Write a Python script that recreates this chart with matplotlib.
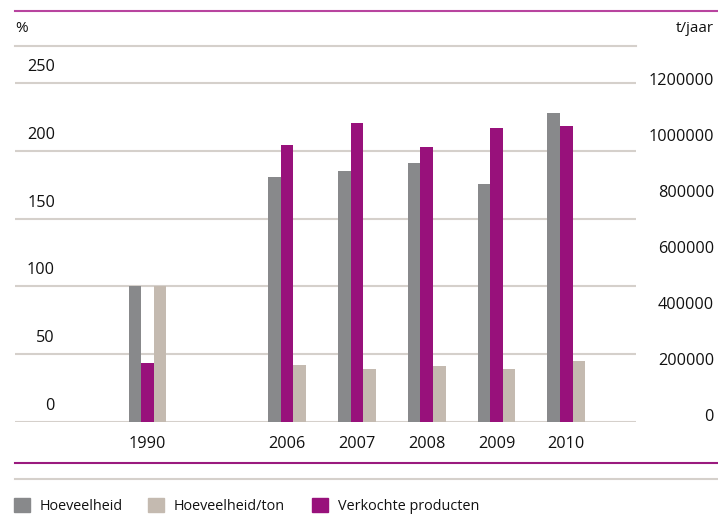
import numpy as np
import matplotlib
matplotlib.use("Agg")
import matplotlib.pyplot as plt
from matplotlib.lines import Line2D
from matplotlib.patches import Rectangle
import matplotlib.transforms as mtransforms

plt.rcParams['font.family'] = ['Open Sans', 'DejaVu Sans']

# Data
years = ['1990', '2006', '2007', '2008', '2009', '2010']
hoeveelheid = [100, 181, 185.4, 191.3, 175.8, 228.3]          # %
hoeveelheid_ton = [100, 41.9, 39.0, 41.2, 39.0, 44.9]        # %
verkochte = [208600, 988000, 1066700, 981000, 1048800, 1056000]  # t/jaar
left_ticks = [0, 50, 100, 150, 200, 250]
right_ticks = [0, 200000, 400000, 600000, 800000, 1000000, 1200000]

c_gray = '#88898b'
c_beige = '#c4bab0'
c_purple = '#98117b'
c_grid = '#d5d0cb'
c_text = '#111111'
num_fs = 11.7
leg_fs = 10.4

fig = plt.figure(figsize=(7.18, 5.14), dpi=100)
ax = fig.add_axes([15/718, 1 - 421.7/514, 621/718, (421.7 - 46)/514])
ax2 = ax.twinx()

pos = np.array([0, 2, 3, 4, 5, 6])  # gap between 1990 and 2006
w = 0.18
ax.bar(pos - w, hoeveelheid, width=w, color=c_gray, zorder=3)
ax.bar(pos + w, hoeveelheid_ton, width=w, color=c_beige, zorder=3)
ax2.bar(pos, verkochte, width=w, color=c_purple, zorder=3)

ax.set_xlim(-1.9, 7.0)
ax.set_ylim(0, 277.7)
ax2.set_ylim(0, 277.7 * 4830)

for a in (ax, ax2):
    for s in a.spines.values():
        s.set_visible(False)
    a.set_yticks([])
    a.tick_params(length=0)
ax.spines['top'].set_visible(True)
ax.spines['top'].set_color(c_grid)
ax.spines['top'].set_linewidth(1.5)

for v in left_ticks:
    ax.axhline(v, color=c_grid, lw=1.5, zorder=1)

ax.set_xticks(pos)
ax.set_xticklabels(years, fontsize=num_fs, color=c_text)
ax.tick_params(axis='x', pad=10.5)

# left labels sit above their gridline
off_l = mtransforms.ScaledTranslation(0, 16/100, fig.dpi_scale_trans)
for v in left_ticks:
    ax.text(40/621, v, str(v), transform=ax.get_yaxis_transform() + off_l,
            ha='right', va='center', fontsize=num_fs, color=c_text)

off_r = mtransforms.ScaledTranslation(0, 5/100, fig.dpi_scale_trans)
for v in right_ticks:
    ax2.text(699/621, v, str(v), transform=ax2.get_yaxis_transform() + off_r,
             ha='right', va='center', fontsize=num_fs, color=c_text)

fig.text(15/718, 1 - 29/514, '%', ha='left', va='center', fontsize=11, color=c_text)
fig.text(714/718, 1 - 29/514, 't/jaar', ha='right', va='center', fontsize=11, color=c_text)

# decorative rules
fig.add_artist(Line2D([15/718, 1], [1 - 11/514] * 2, color='#b8449f', lw=1.5))
fig.add_artist(Line2D([15/718, 1], [1 - 463.3/514] * 2, color='#9a1a7e', lw=1.5))
fig.add_artist(Line2D([15/718, 1], [1 - 479.3/514] * 2, color=c_grid, lw=1.5))

# legend
legend_items = [('Hoeveelheid', c_gray, 14), ('Hoeveelheid/ton', c_beige, 148),
                ('Verkochte producten', c_purple, 312)]
for label, col, x0 in legend_items:
    fig.add_artist(Rectangle((x0/718, 1 - 512/514), 16/718, 14/514,
                             color=col, transform=fig.transFigure))
    fig.text((x0 + 26)/718, 1 - 506/514, label, ha='left', va='center',
             fontsize=leg_fs, color=c_text)

fig.savefig('out.png', dpi=100)
